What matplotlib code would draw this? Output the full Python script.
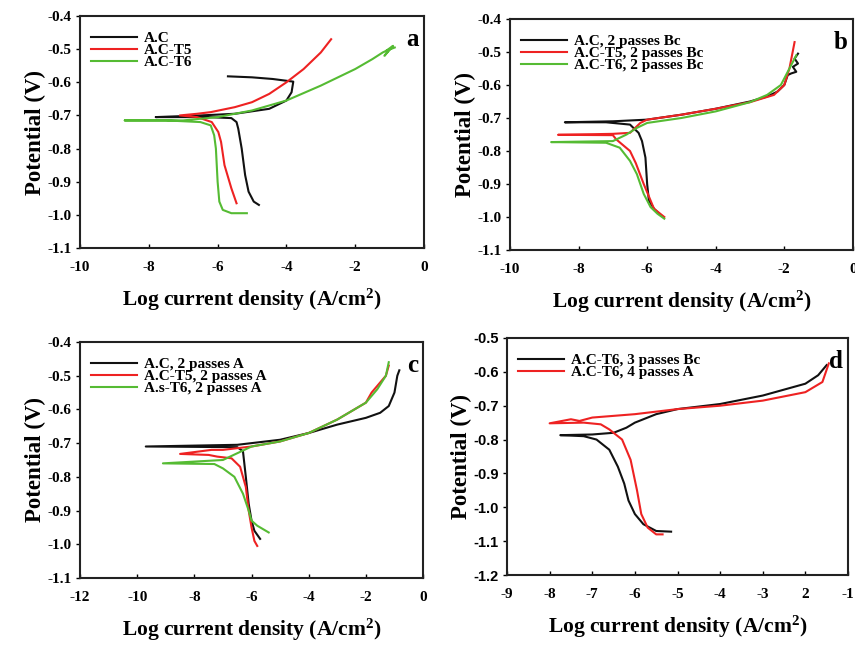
import matplotlib
matplotlib.use("Agg")
import matplotlib.pyplot as plt

SERIF = "Liberation Serif"
SANS = "Liberation Sans"

plt.rcParams["axes.unicode_minus"] = False
plt.rcParams["mathtext.fontset"] = "custom"
plt.rcParams["mathtext.rm"] = "Liberation Serif:bold"
plt.rcParams["mathtext.bf"] = "Liberation Serif:bold"
plt.rcParams["mathtext.it"] = "Liberation Serif:bold:italic"

# ---- panel a: as-cast, T5, T6 ----
a_ac_x = [-4.8, -4.95, -5.1, -5.2, -5.3, -5.4, -5.45, -5.6, -6.3, -7.8, -6.5, -5.5, -4.5, -4.0, -3.85, -3.8, -4.4, -5.0, -5.7]
a_ac_y = [-0.97, -0.96, -0.93, -0.88, -0.80, -0.74, -0.72, -0.708, -0.705, -0.705, -0.70, -0.695, -0.68, -0.655, -0.63, -0.598, -0.59, -0.585, -0.582]
a_t5_x = [-5.45, -5.6, -5.8, -5.9, -5.98, -6.17, -6.6, -7.1, -6.6, -6.2, -5.5, -5.0, -4.5, -4.0, -3.5, -3.0, -2.7]
a_t5_y = [-0.965, -0.92, -0.85, -0.78, -0.75, -0.72, -0.705, -0.70, -0.695, -0.69, -0.675, -0.66, -0.635, -0.60, -0.56, -0.51, -0.47]
a_t6_x = [-5.15, -5.6, -5.85, -5.95, -6.0, -6.05, -6.1, -6.2, -6.5, -7.5, -8.7, -7.0, -6.0, -5.0, -4.0, -3.0, -2.0, -1.5, -1.2, -1.0, -1.15, -0.9, -1.1, -0.85]
a_t6_y = [-0.995, -0.995, -0.985, -0.96, -0.90, -0.80, -0.76, -0.73, -0.72, -0.715, -0.715, -0.715, -0.705, -0.685, -0.655, -0.61, -0.56, -0.53, -0.51, -0.50, -0.52, -0.49, -0.505, -0.495]

# ---- panel b: 2 passes Bc ----
b_ac_x = [-5.6, -5.8, -5.95, -6.0, -6.05, -6.15, -6.25, -6.5, -7.2, -8.4, -7.0, -6.0, -5.0, -4.0, -3.0, -2.5, -2.2, -2.0, -1.9, -1.8, -1.65, -1.75, -1.6, -1.7, -1.6]
b_ac_y = [-0.995, -0.975, -0.95, -0.90, -0.82, -0.77, -0.745, -0.72, -0.713, -0.713, -0.71, -0.705, -0.69, -0.672, -0.65, -0.635, -0.62, -0.60, -0.57, -0.565, -0.56, -0.545, -0.535, -0.52, -0.505]
b_t5_x = [-5.5, -5.8, -5.9, -6.1, -6.33, -6.5, -6.9, -7.0, -8.6, -7.0, -6.5, -6.2, -6.0, -5.0, -4.0, -3.0, -2.3, -2.0, -1.85, -1.7]
b_t5_y = [-1.0, -0.975, -0.95, -0.90, -0.837, -0.80, -0.765, -0.752, -0.751, -0.748, -0.745, -0.715, -0.705, -0.69, -0.672, -0.652, -0.63, -0.60, -0.55, -0.47]
b_t6_x = [-5.5, -5.7, -5.9, -6.1, -6.3, -6.5, -6.8, -7.2, -8.8, -7.0, -6.6, -6.3, -6.0, -5.0, -4.0, -3.0, -2.5, -2.1, -1.95, -1.8, -1.65]
b_t6_y = [-1.005, -0.99, -0.97, -0.93, -0.87, -0.83, -0.79, -0.775, -0.773, -0.77, -0.75, -0.73, -0.715, -0.70, -0.68, -0.652, -0.63, -0.60, -0.57, -0.54, -0.51]

# ---- panel c: 2 passes A ----
c_ac_x = [-5.7, -5.9, -6.0, -6.1, -6.2, -6.3, -6.5, -9.7, -6.5, -5.0, -4.0, -3.0, -2.0, -1.5, -1.2, -1.0, -0.9, -0.83]
c_ac_y = [-0.984, -0.96, -0.93, -0.88, -0.80, -0.724, -0.712, -0.71, -0.705, -0.69, -0.67, -0.645, -0.625, -0.61, -0.59, -0.55, -0.50, -0.484]
c_t5_x = [-5.8, -5.9, -6.0, -6.1, -6.2, -6.4, -6.7, -7.2, -7.5, -8.5, -7.4, -7.0, -6.0, -5.0, -4.0, -3.0, -2.0, -1.8, -1.5, -1.3, -1.2]
c_t5_y = [-1.005, -0.99, -0.95, -0.90, -0.83, -0.77, -0.745, -0.74, -0.735, -0.732, -0.72, -0.72, -0.71, -0.695, -0.67, -0.63, -0.58, -0.55, -0.52, -0.50, -0.47]
c_t6_x = [-5.4, -5.8, -6.0, -6.1, -6.3, -6.6, -7.0, -7.3, -9.1, -7.0, -6.5, -6.0, -5.0, -4.0, -3.0, -2.0, -1.6, -1.3, -1.2]
c_t6_y = [-0.965, -0.945, -0.93, -0.90, -0.85, -0.80, -0.775, -0.762, -0.76, -0.75, -0.73, -0.71, -0.695, -0.67, -0.63, -0.58, -0.54, -0.50, -0.46]

# ---- panel d: T6, 3 passes Bc / 4 passes A ----
d_3bc_x = [-5.15, -5.5, -5.8, -6.0, -6.15, -6.25, -6.4, -6.6, -6.9, -7.2, -7.75, -7.0, -6.5, -6.2, -6.0, -5.5, -5.0, -4.0, -3.0, -2.0, -1.7, -1.5]
d_3bc_y = [-1.072, -1.07, -1.05, -1.02, -0.98, -0.93, -0.88, -0.83, -0.80, -0.79, -0.787, -0.785, -0.78, -0.765, -0.75, -0.725, -0.71, -0.695, -0.67, -0.635, -0.61, -0.58]
d_4a_x = [-5.35, -5.5, -5.7, -5.85, -5.95, -6.1, -6.3, -6.6, -6.8, -7.2, -8.0, -7.5, -7.3, -7.0, -6.0, -5.0, -4.0, -3.0, -2.0, -1.6, -1.45]
d_4a_y = [-1.08, -1.08, -1.06, -1.02, -0.95, -0.86, -0.80, -0.77, -0.755, -0.75, -0.752, -0.74, -0.745, -0.735, -0.725, -0.71, -0.70, -0.685, -0.66, -0.63, -0.575]

BLACK, RED, GREEN = "#111111", "#ee2222", "#55bb33"

panels = [
    dict(rect=[0.0936, 0.6161, 0.4023, 0.3591], letter="a",
         xlim=(-10, 0), xticks=[-10, -8, -6, -4, -2, 0], xlabels=None,
         ylim=(-1.1, -0.4), ysans=False,
         series=[(a_ac_x, a_ac_y, BLACK, "A.C"),
                 (a_t5_x, a_t5_y, RED, "A.C-T5"),
                 (a_t6_x, a_t6_y, GREEN, "A.C-T6")]),
    dict(rect=[0.5965, 0.6130, 0.4010, 0.3576], letter="b",
         xlim=(-10, 0), xticks=[-10, -8, -6, -4, -2, 0], xlabels=None,
         ylim=(-1.1, -0.4), ysans=False,
         series=[(b_ac_x, b_ac_y, BLACK, "A.C, 2 passes Bc"),
                 (b_t5_x, b_t5_y, RED, "A.C-T5, 2 passes Bc"),
                 (b_t6_x, b_t6_y, GREEN, "A.C-T6, 2 passes Bc")]),
    dict(rect=[0.0936, 0.1053, 0.4012, 0.3653], letter="c",
         xlim=(-12, 0), xticks=[-12, -10, -8, -6, -4, -2, 0], xlabels=None,
         ylim=(-1.1, -0.4), ysans=False,
         series=[(c_ac_x, c_ac_y, BLACK, "A.C, 2 passes A"),
                 (c_t5_x, c_t5_y, RED, "A.C-T5, 2 passes A"),
                 (c_t6_x, c_t6_y, GREEN, "A.s-T6, 2 passes A")]),
    dict(rect=[0.5930, 0.1099, 0.3988, 0.3669], letter="d",
         xlim=(-9, -1), xticks=[-9, -8, -7, -6, -5, -4, -3, -2, -1],
         xlabels=["-9", "-8", "-7", "-6", "-5", "-4", "-3", "2", "-1"],
         ylim=(-1.2, -0.5), ysans=True,
         series=[(d_3bc_x, d_3bc_y, BLACK, "A.C-T6, 3 passes Bc"),
                 (d_4a_x, d_4a_y, RED, "A.C-T6, 4 passes A")]),
]

fig = plt.figure(figsize=(8.55, 6.46), dpi=100)

for p in panels:
    ax = fig.add_axes(p["rect"])
    for x, y, c, lab in p["series"]:
        ax.plot(x, y, color=c, lw=1.5, label=lab)
    ax.set_xlim(*p["xlim"])
    ax.set_ylim(*p["ylim"])
    ax.set_xticks(p["xticks"])
    if p["xlabels"]:
        ax.set_xticklabels(p["xlabels"])
    else:
        ax.set_xticklabels([str(v) for v in p["xticks"]])
    y0, y1 = p["ylim"]
    yt = [round(y0 + 0.1 * i, 1) for i in range(int(round((y1 - y0) / 0.1)) + 1)]
    ax.set_yticks(yt)
    ax.set_yticklabels(["%.1f" % v for v in yt])
    for s in ax.spines.values():
        s.set_linewidth(1.5)
        s.set_color("#222222")
    ax.tick_params(axis="x", direction="in", length=3, width=1, pad=9.5)
    ax.tick_params(axis="y", direction="out", length=3, width=1, pad=3)
    for t in ax.get_xticklabels():
        t.set_fontfamily(SERIF)
        t.set_fontweight("bold")
        t.set_fontsize(11)
    for t in ax.get_yticklabels():
        t.set_fontfamily(SANS if p["ysans"] else SERIF)
        t.set_fontweight("bold")
        t.set_fontsize(10.5 if p["ysans"] else 11)
    ax.set_xlabel("Log current density (A/cm$^{2}$)", fontfamily=SERIF,
                  fontweight="bold", fontsize=15.5, labelpad=9)
    ax.set_ylabel("Potential (V)", fontfamily=SERIF, fontweight="bold",
                  fontsize=16.5, labelpad=1)
    ax.text(0.985, 0.95, p["letter"], transform=ax.transAxes, ha="right", va="top",
            fontfamily=SERIF, fontweight="bold", fontsize=18)
    ax.legend(loc="upper left", frameon=False, handlelength=3.0, handletextpad=0.5,
              labelspacing=-0.1, borderaxespad=0.3, bbox_to_anchor=(0.0, 0.98),
              prop=dict(family=SERIF, weight="bold", size=11))

fig.savefig("out.png", dpi=100)
